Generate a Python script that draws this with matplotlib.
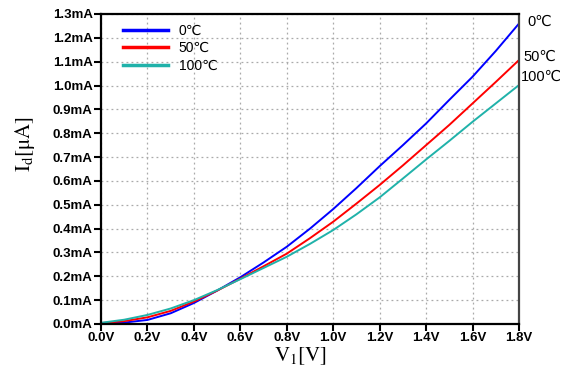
import numpy as np
import matplotlib
matplotlib.use('Agg')
from matplotlib import pyplot as plt
from matplotlib.ticker import FuncFormatter

# Valores (V1 en V, Id en mA)
v1 = [0.0, 0.1, 0.2, 0.3, 0.4, 0.5, 0.6, 0.7, 0.8, 0.9,
      1.0, 1.1, 1.2, 1.3, 1.4, 1.5, 1.6, 1.7, 1.8]
id_0c = [0.003, 0.006, 0.017, 0.045, 0.088, 0.140, 0.196, 0.258, 0.324, 0.400,
         0.482, 0.570, 0.662, 0.750, 0.841, 0.940, 1.037, 1.145, 1.260]
id_50c = [0.004, 0.012, 0.028, 0.055, 0.094, 0.140, 0.190, 0.242, 0.295, 0.360,
          0.429, 0.505, 0.583, 0.665, 0.750, 0.835, 0.925, 1.015, 1.107]
id_100c = [0.005, 0.018, 0.038, 0.065, 0.100, 0.142, 0.188, 0.235, 0.282, 0.336,
           0.394, 0.460, 0.531, 0.610, 0.690, 0.768, 0.848, 0.925, 1.002]
labels = ['0\u2103', '50\u2103', '100\u2103']
colors = ['#0000ff', '#ff0000', '#20b2aa']

xticks = np.arange(0, 1.81, 0.2)
yticks = np.arange(0, 1.31, 0.1)

plt.rcParams['font.family'] = ['Liberation Sans', 'DejaVu Sans']
plt.rcParams['mathtext.fontset'] = 'stix'

fig = plt.figure(figsize=(5.7, 3.74), dpi=100)
ax = fig.add_axes([101/570, 1-324/374, 418/570, 310/374])

series = [id_0c, id_50c, id_100c]
for y, lab, c in zip(series, labels, colors):
    ax.plot(v1, y, color=c, lw=1.4, label=lab)

ax.set_xlim(0, 1.8)
ax.set_ylim(0, 1.3)
ax.set_xticks(xticks)
ax.set_yticks(yticks)
ax.xaxis.set_major_formatter(FuncFormatter(lambda v, p: '%.1fV' % v))
ax.yaxis.set_major_formatter(FuncFormatter(lambda v, p: '%.1fmA' % v))
for t in ax.get_xticklabels() + ax.get_yticklabels():
    t.set_fontweight('bold')
ax.tick_params(axis='both', direction='out', length=5, width=1.5,
               labelsize=9.5, pad=1)
ax.grid(True, color='#aaaaaa', linestyle=(0, (1.5, 2.5)), lw=0.9)
for s in ax.spines.values():
    s.set_linewidth(1.6)
ax.spines['right'].set_color('#444444')

ax.set_xlabel(r'$\mathrm{V_1[V]}$', fontsize=15)
ax.set_ylabel(r'$\mathrm{I_d[\mu A]}$', fontsize=15)
ax.xaxis.set_label_coords(0.476, -0.068)
ax.yaxis.set_label_coords(-0.153, 0.58)

leg = ax.legend(loc='upper left', frameon=False, fontsize=10,
                handlelength=3.2, borderaxespad=0.3, labelspacing=0.25,
                bbox_to_anchor=(0.03, 1.0))
for line in leg.get_lines():
    line.set_linewidth(2.5)

# etiquetas a la derecha de cada curva
ax.text(1.0 + 8/418, (324-22)/310, labels[0], transform=ax.transAxes,
        fontsize=10.5, va='center')
ax.text(1.0 + 4/418, (324-57)/310, labels[1], transform=ax.transAxes,
        fontsize=10.5, va='center')
ax.text(1.0 + 2/418, (324-77)/310, labels[2], transform=ax.transAxes,
        fontsize=10.5, va='center')

plt.savefig('out.png', dpi=100)
